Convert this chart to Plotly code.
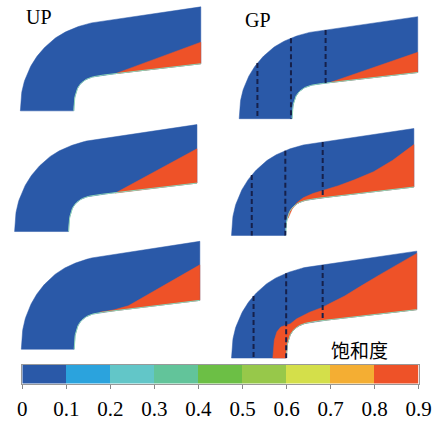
import numpy as np
import plotly.graph_objects as go

W, H = 448, 421

# ---------------- data ----------------
# template outline of the bent beam, normalised (u: left->right, v: top->bottom)
outer_u = [0, 0.004, 0.016, 0.043, 0.071, 0.110, 0.154, 0.198, 0.243, 0.291, 0.340, 0.394, 1.0]
outer_v = [1, 0.877, 0.752, 0.625, 0.531, 0.437, 0.358, 0.295, 0.248, 0.210, 0.179, 0.154, 0.0]
inner_u = [0.296, 0.298, 0.305, 0.315, 0.331, 0.355, 0.385, 0.429, 0.482, 0.527, 1.0]
inner_v = [1, 0.908, 0.846, 0.790, 0.745, 0.708, 0.682, 0.663, 0.651, 0.642, 0.547]

panel_labels = ["UP", "GP", "", "", "", ""]

# saturated (0.8-0.9) zone boundary, from right edge to inner edge / bottom
red_u = [
    [1, 0.527],
    [1, 0.51],
    [1, 0.553],
    [1, 0.884, 0.779, 0.674, 0.586, 0.507, 0.446, 0.393, 0.358, 0.332, 0.310],
    [1, 0.60, 0.52, 0.44],
    [1, 0.905, 0.801, 0.698, 0.611, 0.525, 0.490, 0.421, 0.352, 0.318, 0.292, 0.266, 0.245, 0.231, 0.223],
]
red_v = [
    [0.340, 0.642],
    [0.349, 0.645],
    [0.226, 0.640],
    [0.15, 0.297, 0.404, 0.480, 0.535, 0.578, 0.608, 0.648, 0.694, 0.755, 0.84],
    [0.218, 0.597, 0.635, 0.658],
    [0.021, 0.113, 0.220, 0.327, 0.419, 0.495, 0.526, 0.572, 0.633, 0.679, 0.694, 0.709, 0.755, 0.832, 1.0],
]

# monitoring sections (dashed lines) in GP panels
section_u = [[], [0.102, 0.290, 0.484], [], [0.111, 0.295, 0.50], [], [0.119, 0.295, 0.492]]

# colour scale
levels = [0, 0.1, 0.2, 0.3, 0.4, 0.5, 0.6, 0.7, 0.8, 0.9]
level_labels = ["0", "0.1", "0.2", "0.3", "0.4", "0.5", "0.6", "0.7", "0.8", "0.9"]
level_colors = ["#2a59a8", "#2ba3dd", "#62c6c8", "#62c49a", "#6cbf45",
                "#97c84a", "#d4df4a", "#f4ae33", "#ee5228"]
colorbar_title = "饱和度"

# ---------------- layout (pixel boxes of the six panels) ----------------
box_left = [16, 244, 10, 236, 17, 236]
box_top = [7, 17, 127, 131, 246, 256]
box_right = [204, 430, 200, 426, 203, 429]
box_bottom = [113, 121, 236, 240, 356, 365]

BLUE = level_colors[0]
RED = level_colors[-1]
SERIF = "Liberation Serif"


def catmull(us, vs, n=8):
    pts = list(zip(us, vs))
    out = []
    for i in range(len(pts) - 1):
        p0 = np.array(pts[max(i - 1, 0)])
        p1 = np.array(pts[i])
        p2 = np.array(pts[i + 1])
        p3 = np.array(pts[min(i + 2, len(pts) - 1)])
        for t in np.linspace(0, 1, n, endpoint=False):
            t2, t3 = t * t, t * t * t
            p = 0.5 * ((2 * p1) + (-p0 + p2) * t + (2 * p0 - 5 * p1 + 4 * p2 - p3) * t2
                       + (-p0 + 3 * p1 - 3 * p2 + p3) * t3)
            out.append(p)
    out.append(np.array(pts[-1]))
    a = np.array(out)
    return list(a[:, 0]), list(a[:, 1])


# smooth curved parts, keep last straight segment straight
ou, ov = catmull(outer_u[:-1], outer_v[:-1])
ou, ov = ou + [outer_u[-1]], ov + [outer_v[-1]]
iu, iv = catmull(inner_u[:-1], inner_v[:-1])
iu, iv = iu + [inner_u[-1]], iv + [inner_v[-1]]

fig = go.Figure()


def to_px(k, us, vs):
    l, t, r, b = box_left[k], box_top[k], box_right[k], box_bottom[k]
    xs = [l + u * (r - l) for u in us]
    ys = [t + v * (b - t) for v in vs]
    return xs, ys


for k in range(6):
    # beam body
    pu = ou + iu[::-1] + [ou[0]]
    pv = ov + iv[::-1] + [ov[0]]
    xs, ys = to_px(k, pu, pv)
    fig.add_trace(go.Scatter(x=xs, y=ys, mode="lines", fill="toself", fillcolor=BLUE,
                             line=dict(color=BLUE, width=0.5), hoverinfo="skip"))
    # saturated zone
    ru, rv = list(red_u[k]), list(red_v[k])
    ue = ru[-1]
    for u, v in zip(iu, iv):
        if u > ue + 1e-6:
            ru.append(u)
            rv.append(v)
    ru.append(red_u[k][0])
    rv.append(red_v[k][0])
    xs, ys = to_px(k, ru, rv)
    fig.add_trace(go.Scatter(x=xs, y=ys, mode="lines", fill="toself", fillcolor=RED,
                             line=dict(color=RED, width=0.5), hoverinfo="skip"))
    # faint transition rim along the inner edge
    xs, ys = to_px(k, iu, iv)
    fig.add_trace(go.Scatter(x=xs, y=ys, mode="lines",
                             line=dict(color="#8fd6b8", width=1), hoverinfo="skip"))
    # dashed sections
    for u in section_u[k]:
        vt = float(np.interp(u, ou, ov))
        vb = float(np.interp(u, iu, iv))
        xs, ys = to_px(k, [u, u], [vt, vb])
        fig.add_trace(go.Scatter(x=xs, y=ys, mode="lines",
                                 line=dict(color="#16204a", width=2, dash="5px,3px"),
                                 hoverinfo="skip"))

# colour bar as a heatmap on its own axis
centers = [(levels[i] + levels[i + 1]) / 2 for i in range(len(levels) - 1)]
cs = []
n = len(level_colors)
for i, c in enumerate(level_colors):
    cs.append([i / n, c])
    cs.append([(i + 1) / n, c])
fig.add_trace(go.Heatmap(x=centers, y=[0.5], z=[centers], zmin=levels[0], zmax=levels[-1],
                         colorscale=cs, showscale=False, xaxis="x2", yaxis="y2",
                         hoverinfo="skip"))

annotations = [
    dict(x=35, y=17, xref="x", yref="y", text=panel_labels[0], showarrow=False,
         font=dict(family=SERIF, size=20, color="black")),
    dict(x=264, y=20, xref="x", yref="y", text=panel_labels[1], showarrow=False,
         font=dict(family=SERIF, size=20, color="black")),
    dict(x=369, y=356, xref="x", yref="y", text=colorbar_title, showarrow=False,
         font=dict(family="Noto Sans CJK SC", size=19, color="black")),
]

fig.update_layout(
    width=W, height=H, margin=dict(l=0, r=0, t=0, b=0),
    paper_bgcolor="white", plot_bgcolor="white", showlegend=False,
    xaxis=dict(range=[0, W], visible=False, domain=[0, 1], fixedrange=True),
    yaxis=dict(range=[H, 0], visible=False, domain=[0, 1], fixedrange=True),
    xaxis2=dict(domain=[18 / W, 431 / W], range=[levels[0], levels[-1]], anchor="y2",
                tickvals=levels, ticktext=level_labels, ticks="outside", ticklen=4,
                tickcolor="#888", tickwidth=1, showgrid=False, zeroline=False,
                showline=True, linecolor="#999", linewidth=1, mirror=True,
                ticklabelstandoff=2,
                tickfont=dict(family=SERIF, size=21, color="black")),
    yaxis2=dict(domain=[1 - 391 / H, 1 - 372 / H], range=[0, 1], anchor="x2",
                showticklabels=False, ticks="", showgrid=False, zeroline=False,
                showline=True, linecolor="#999", linewidth=1, mirror=True),
    annotations=annotations,
)

fig.write_html("out.html")
